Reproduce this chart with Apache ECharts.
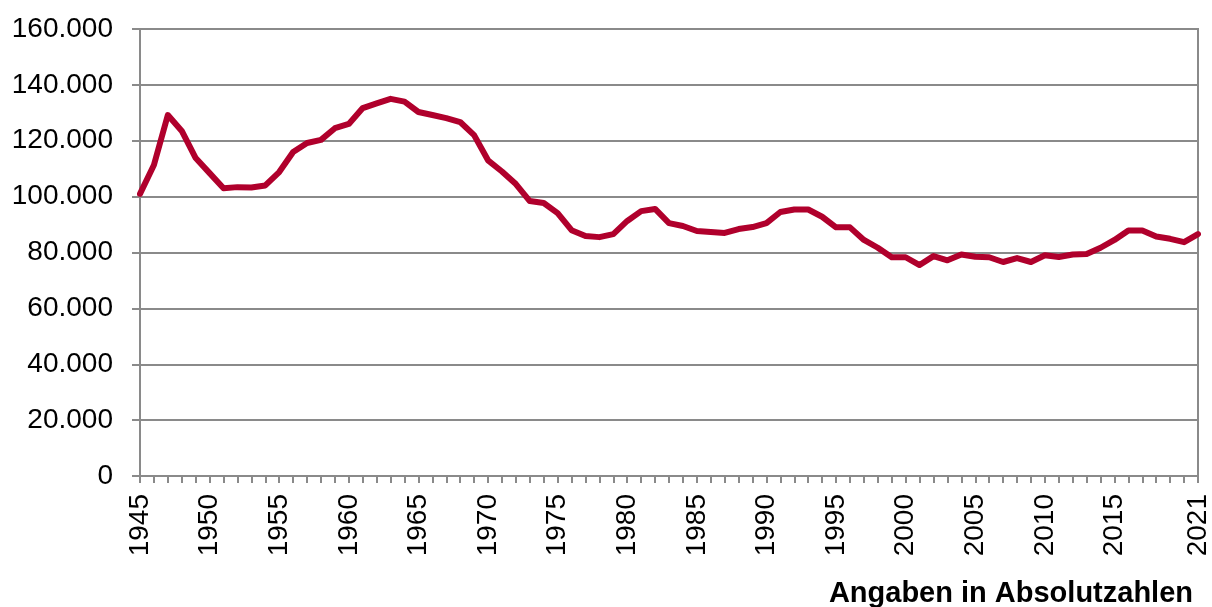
<!DOCTYPE html>
<html><head><meta charset="utf-8">
<script src="https://cdn.jsdelivr.net/npm/echarts@6/dist/echarts.min.js"></script>
<style>html,body{margin:0;padding:0;background:#fff}#c{width:1212px;height:607px}</style>
</head><body><div id="c"></div>
<script>
const years = [];
for (let y = 1945; y <= 2021; y++) years.push(String(y));
const values = [
 101000,111300,129200,123500,113800,108400,103000,103400,103300,104000,
 108800,116000,119200,120300,124500,126000,131700,133400,135000,134000,
 130300,129200,128100,126700,122000,113000,109000,104500,98400,97700,
 94100,88000,85900,85500,86600,91300,94800,95600,90500,89500,
 87700,87300,87000,88400,89100,90500,94500,95400,95400,92800,
 89000,89000,84500,81700,78300,78300,75500,78700,77200,79300,
 78500,78300,76600,78000,76600,79000,78400,79300,79500,81700,
 84500,87900,87900,85700,84900,83700,86600
];
const yTicks = {min: 0, max: 160000, interval: 20000};
const note = 'Angaben in Absolutzahlen';
const gray = '#8a8a8a';
const fontFam = '"Liberation Sans", Arial, sans-serif';
const chart = echarts.init(document.getElementById('c'), null, {renderer: 'canvas'});
chart.setOption({
  animation: false,
  title: {text: note, right: 14, top: 574, textStyle: {fontFamily: fontFam, fontWeight: 'bold', fontSize: 29, color: '#000'}},
  grid: {left: 140, right: 13, top: 29, bottom: 131, show: true, borderColor: gray, borderWidth: 2, containLabel: false},
  xAxis: {
    type: 'category', data: years, boundaryGap: false,
    axisLine: {lineStyle: {color: gray, width: 2}},
    axisTick: {show: true, interval: 0, length: 7, lineStyle: {color: gray, width: 2}},
    axisLabel: {
      rotate: 90, margin: 18, fontFamily: fontFam, fontSize: 28, color: '#000',
      interval: function (i, v) { return (v === '2021') || ((i % 5 === 0) && v !== '2020'); }
    },
    splitLine: {show: false}
  },
  yAxis: {
    type: 'value', min: yTicks.min, max: yTicks.max, interval: yTicks.interval,
    axisLine: {show: true, lineStyle: {color: gray, width: 2}},
    axisTick: {show: true, length: 8, lineStyle: {color: gray, width: 2}},
    axisLabel: {margin: 27, fontFamily: fontFam, fontSize: 28, color: '#000',
      formatter: function (v) { return String(v).replace(/\B(?=(\d{3})+(?!\d))/g, '.'); }},
    splitLine: {show: true, lineStyle: {color: gray, width: 2}}
  },
  series: [{
    type: 'line', data: values, showSymbol: false, symbol: 'none',
    lineStyle: {color: '#B0002C', width: 6, join: 'round', cap: 'round'},
    z: 5
  }]
});
</script></body></html>
